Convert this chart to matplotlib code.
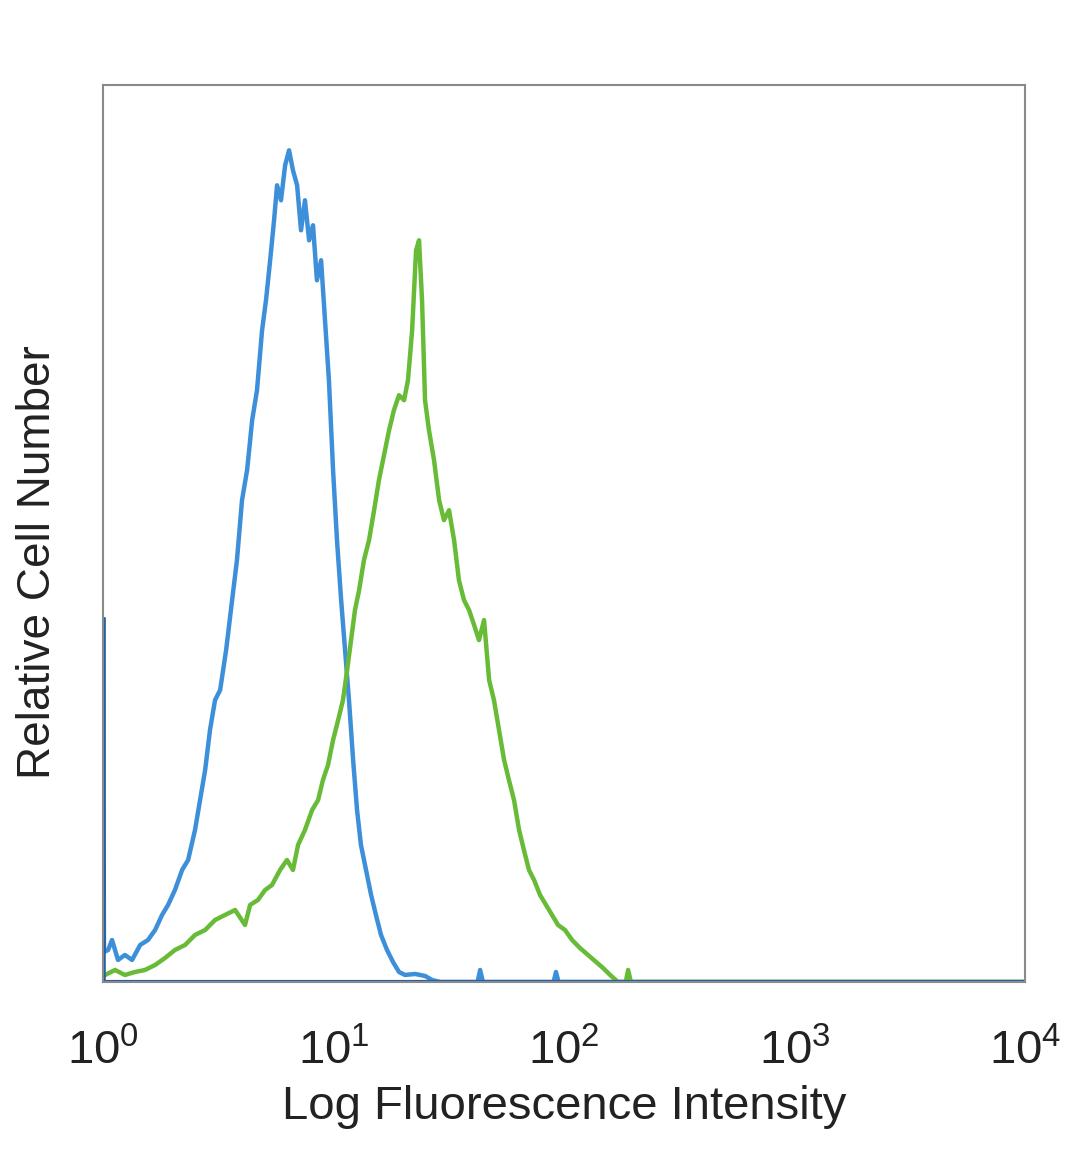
import numpy as np
import matplotlib
matplotlib.use("Agg")
import matplotlib.pyplot as plt
from matplotlib import font_manager

# histogram data: log10 intensity (decades) and relative counts
blue_log = [0.0, 0.004, 0.022, 0.039, 0.065, 0.095, 0.126, 0.161, 0.195, 0.226, 0.256,
            0.282, 0.312, 0.343, 0.369, 0.399, 0.421, 0.443, 0.464, 0.486, 0.508,
            0.534, 0.560, 0.581, 0.603, 0.625, 0.647, 0.668, 0.690, 0.707, 0.725,
            0.742, 0.755, 0.772, 0.790, 0.807, 0.824, 0.842, 0.859, 0.876, 0.894,
            0.911, 0.928, 0.946, 0.963, 0.980, 0.998, 1.015, 1.033, 1.050, 1.067,
            1.085, 1.102, 1.119, 1.141, 1.163, 1.184, 1.206, 1.232, 1.258, 1.284,
            1.310, 1.354, 1.397, 1.427, 1.462, 1.625, 1.636, 1.648, 1.955, 1.965,
            1.976, 4.0]
blue_counts = [362, 30, 32, 42, 22, 27, 22, 37, 42, 52, 67,
               77, 92, 112, 122, 152, 182, 212, 252, 282, 292,
               332, 382, 422, 482, 512, 562, 592, 652, 682, 722,
               762, 797, 782, 817, 832, 812, 797, 752, 782, 742,
               757, 702, 722, 662, 602, 512, 442, 382, 332, 282,
               222, 172, 137, 112, 87, 67, 47, 32, 20, 10,
               7, 8, 6, 2, 0, 0, 12, 0, 0, 10,
               0, 0]

green_log = [0.009, 0.052, 0.095, 0.139, 0.182, 0.226, 0.269, 0.312, 0.356, 0.399,
             0.443, 0.486, 0.529, 0.573, 0.616, 0.638, 0.672, 0.703, 0.733, 0.768,
             0.798, 0.824, 0.846, 0.876, 0.907, 0.933, 0.954, 0.976, 0.998, 1.020,
             1.041, 1.059, 1.076, 1.093, 1.111, 1.132, 1.154, 1.176, 1.197, 1.219,
             1.241, 1.262, 1.284, 1.306, 1.323, 1.341, 1.358, 1.371, 1.384, 1.397,
             1.414, 1.436, 1.458, 1.479, 1.501, 1.523, 1.544, 1.566, 1.588, 1.610,
             1.631, 1.653, 1.675, 1.696, 1.718, 1.740, 1.761, 1.783, 1.805, 1.826,
             1.848, 1.870, 1.896, 1.922, 1.948, 1.974, 2.004, 2.035, 2.069, 2.104,
             2.139, 2.169, 2.200, 2.234, 2.268, 2.278, 2.290, 4.0]
green_counts = [7, 12, 7, 10, 12, 17, 24, 32, 37, 47,
                52, 62, 67, 72, 57, 77, 82, 92, 97, 112,
                122, 112, 137, 152, 172, 182, 202, 217, 242, 262,
                282, 312, 342, 372, 392, 422, 442, 472, 502, 527,
                552, 572, 587, 582, 602, 652, 732, 742, 682, 582,
                552, 522, 482, 462, 472, 442, 402, 382, 372, 357,
                342, 362, 302, 282, 252, 222, 202, 182, 152, 132,
                112, 102, 87, 77, 67, 57, 52, 42, 34, 27,
                20, 14, 7, 0, 0, 12, 0, 0]

tick_vals = [1, 10, 100, 1000, 10000]
tick_labels = [r"$10^{0}$", r"$10^{1}$", r"$10^{2}$", r"$10^{3}$", r"$10^{4}$"]

avail = {f.name for f in font_manager.fontManager.ttflist}
fam = "Liberation Sans" if "Liberation Sans" in avail else "DejaVu Sans"
plt.rcParams["font.family"] = fam
plt.rcParams["mathtext.fontset"] = "custom"
plt.rcParams["mathtext.rm"] = fam
plt.rcParams["mathtext.it"] = fam

fig = plt.figure(figsize=(10.8, 11.69), dpi=100)
ax = fig.add_axes([0.0954, 0.160, 0.8537, 0.767])

ax.plot(10 ** np.array(blue_log), blue_counts, color="#3d8fd9", lw=3.2)
ax.plot(10 ** np.array(green_log), green_counts, color="#68bb36", lw=3.2)
# first channel pile-up and zero baseline in dark blue
ax.plot([1.0, 1.0], [0, blue_counts[0]], color="#1f5fa6", lw=4)
ax.axhline(0, color="#1f5fa6", lw=3)

ax.set_xscale("log")
ax.set_xlim(1, 10000)
ax.set_ylim(0, 897)
ax.set_xticks(tick_vals)
ax.set_xticklabels(tick_labels)
ax.minorticks_off()
ax.set_yticks([])
ax.tick_params(axis="x", length=0, pad=34, labelsize=34, colors="#222222")
for s in ax.spines.values():
    s.set_color("#8a8a8a")
    s.set_linewidth(1.5)

ax.set_xlabel("Log Fluorescence Intensity", fontsize=34, color="#222222", labelpad=8)
fig.text(0.035, 0.519, "Relative Cell Number", rotation=90, fontsize=33,
         color="#222222", ha="center", va="center")

fig.savefig("out.png", dpi=100, facecolor="white")
